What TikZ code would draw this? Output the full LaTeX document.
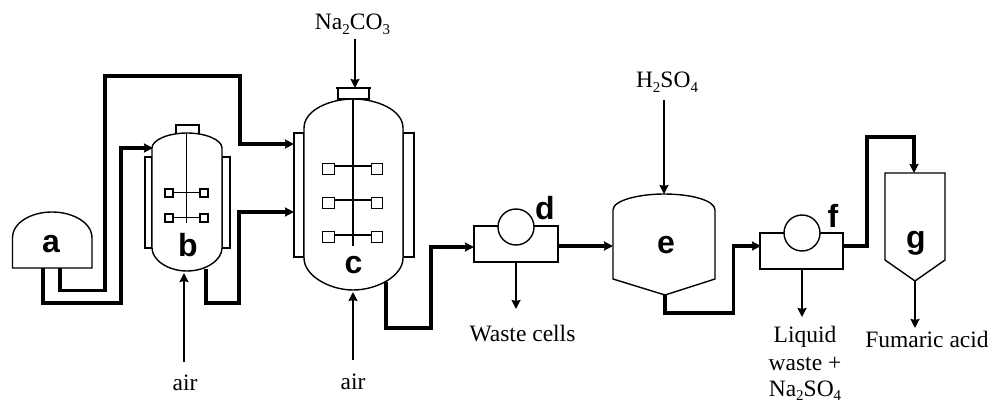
\documentclass[tikz,border=0pt]{standalone}
\usepackage{fontspec}
\setmainfont{Liberation Serif}
\newfontfamily\lblfont{Liberation Sans}
\usetikzlibrary{arrows.meta}
\newcommand{\sbs}[1]{\raisebox{-0.2em}{\fontsize{15}{15}\selectfont #1}}
\tikzset{
  x=1pt,y=-1pt,
  vessel/.style={draw=black,line width=1.4pt,fill=white},
  fine/.style={draw=black,line width=1.4pt},
  pipe/.style={draw=black,line width=3.3pt,line join=miter},
  pipearrow/.style={pipe,-{Stealth[length=9pt,width=9pt,inset=1pt]}},
  feed/.style={draw=black,line width=1.9pt,-{Stealth[length=9pt,width=9pt,inset=1pt]}},
  txt/.style={anchor=base,inner sep=0pt,font=\fontsize{23.5}{24}\selectfont},
  tag/.style={anchor=base,inner sep=0pt,font=\lblfont\bfseries\fontsize{32}{32}\selectfont},
  box/.style={vessel,rectangle,inner sep=0pt,anchor=center},
  rotor/.style={vessel,circle,inner sep=0pt,minimum size=36pt,anchor=center},
  paddle/.style={vessel,rectangle,inner sep=0pt,anchor=center},
}
\begin{document}
\begin{tikzpicture}
\useasboundingbox (0,0) rectangle (990,404);
% ---- ports and free ends
\coordinate (aOut1) at (43,268);
\coordinate (aOut2) at (60,268);
\coordinate (bIn) at (153,148);
\coordinate (bOut) at (206,269);
\coordinate (bAir) at (184,273);
\coordinate (bAirT) at (184,362);
\coordinate (cIn1) at (294,144);
\coordinate (cIn2) at (294,212);
\coordinate (cOut) at (386,282);
\coordinate (cAir) at (353,292);
\coordinate (cAirT) at (353,360);
\coordinate (cTop) at (355,88);
\coordinate (cTopT) at (355,39);
\coordinate (dIn) at (474,247);
\coordinate (dOut) at (558,246);
\coordinate (dDown) at (516,262);
\coordinate (dDownT) at (516,309);
\coordinate (eIn) at (613,246);
\coordinate (eTop) at (664,194);
\coordinate (eTopT) at (664,100);
\coordinate (eOut) at (665,295);
\coordinate (fIn) at (761,246);
\coordinate (fOut) at (843,246);
\coordinate (fDown) at (802,269);
\coordinate (fDownT) at (802,317);
\coordinate (gIn) at (914,173);
\coordinate (gOut) at (915,281);
\coordinate (gOutT) at (915,328);
% ---- pipes
\draw[pipearrow] (aOut1) |- (121,303) -- (121,148) -- (bIn);
\draw[pipearrow] (aOut2) |- (105,290.5) |- (240,76) |- (cIn1);
\draw[pipearrow] (bOut) |- (239,303) |- (cIn2);
\draw[pipearrow] (cOut) |- (431,328) |- (dIn);
\draw[pipearrow] (dOut) -- (eIn);
\draw[pipearrow] (eOut) |- (733.5,313) |- (fIn);
\draw[pipearrow] (fOut) -| (867,137) -| (gIn);
% ---- a: storage tank
\draw[vessel] (12.5,268) -- (12.5,238) .. controls (12.5,222) and (32,212) .. (52,212) .. controls (72,212) and (92,222) .. (92,238) -- (92,268) -- cycle;
% ---- b: seed fermenter
\draw[vessel] (145,157) rectangle (152,248);
\draw[vessel] (222,157) rectangle (230,248);
\draw[vessel] (176,125) rectangle (199,134);
\draw[vessel] (152,148) .. controls (152,140) and (168,133) .. (187,133) .. controls (206,133) and (222,140) .. (222,148) -- (222,248) .. controls (222,260) and (206,271) .. (187,271) .. controls (168,271) and (152,260) .. (152,248) -- cycle;
\draw[fine] (186.5,133) -- (186.5,223);
\draw[fine] (173,192.5) -- (200,192.5);
\draw[fine] (173,217.5) -- (200,217.5);
\node[paddle,minimum size=8pt] (bp1) at (169,193) {};
\node[paddle,minimum size=8pt] (bp2) at (204,193) {};
\node[paddle,minimum size=8pt] (bp3) at (169,218) {};
\node[paddle,minimum size=8pt] (bp4) at (204,218) {};
% ---- c: main fermenter
\draw[vessel] (294,133) rectangle (304,257);
\draw[vessel] (403,133) rectangle (414,257);
\draw[vessel] (338,88) rectangle (369,99);
\draw[fine] (336,88) -- (371,88);
\draw[vessel] (304,128) .. controls (304,110) and (330,99) .. (353,99) .. controls (377,99) and (403,110) .. (403,128) -- (403,258) .. controls (403,276) and (377,290) .. (353,290) .. controls (330,290) and (304,276) .. (304,258) -- cycle;
\draw[fine] (353,99) -- (353,246);
\draw[fine] (334,166) -- (371,166);
\draw[fine] (334,200) -- (371,200);
\draw[fine] (334,235) -- (371,235);
\node[paddle,minimum size=11.5pt] (cp1) at (328.5,169) {};
\node[paddle,minimum size=11.5pt] (cp2) at (377,169) {};
\node[paddle,minimum size=11.5pt] (cp3) at (328.5,203) {};
\node[paddle,minimum size=11.5pt] (cp4) at (377,203) {};
\node[paddle,minimum size=11.5pt] (cp5) at (328.5,237) {};
\node[paddle,minimum size=11.5pt] (cp6) at (377,237) {};
% ---- d: separator
\node[box,minimum width=84pt,minimum height=36pt] (dbox) at (516,244) {};
\node[rotor] (dc) at (516,227) {};
% ---- e: acidification tank
\draw[vessel] (613,210) .. controls (613,200) and (640,194) .. (664,194) .. controls (690,194) and (715,200) .. (715,210) -- (715,279) -- (665,295) -- (613,279) -- cycle;
% ---- f: separator
\node[box,minimum width=83pt,minimum height=36pt] (fbox) at (801.5,251) {};
\node[rotor] (fc) at (802,233) {};
% ---- g: crystallizer
\draw[vessel] (885,173) -- (945,173) -- (945,260) -- (915,281) -- (885,260) -- cycle;
% ---- single-line feeds
\draw[feed] (bAirT) -- (bAir);
\draw[feed] (cAirT) -- (cAir);
\draw[feed] (cTopT) -- (cTop);
\draw[feed] (dDown) -- (dDownT);
\draw[feed] (eTopT) -- (eTop);
\draw[feed] (fDown) -- (fDownT);
\draw[feed,line width=2.4pt] (gOut) -- (gOutT);
% ---- letters
\node[tag] (la) at (51,252) {a};
\node[tag] (lb) at (188,256) {b};
\node[tag] (lc) at (353.5,273) {c};
\node[tag] (ld) at (545,219) {d};
\node[tag] (le) at (666,253) {e};
\node[tag] (lf) at (833,227) {f};
\node[tag] (lg) at (916,248) {g};
% ---- texts
\node[txt] (t1) at (185,390) {air};
\node[txt] (t2) at (353,389) {air};
\node[txt] (t3) at (352.5,30) {Na\sbs{2}CO\sbs{3}};
\node[txt] (t4) at (667,88) {H\sbs{2}SO\sbs{4}};
\node[txt] (t5) at (522.5,341) {Waste cells};
\node[txt] (t6) at (805,342) {Liquid};
\node[txt] (t7) at (805,370) {waste +};
\node[txt] (t8) at (805,396) {Na\sbs{2}SO\sbs{4}};
\node[txt] (t9) at (927,347) {Fumaric acid};
\end{tikzpicture}
\end{document}
